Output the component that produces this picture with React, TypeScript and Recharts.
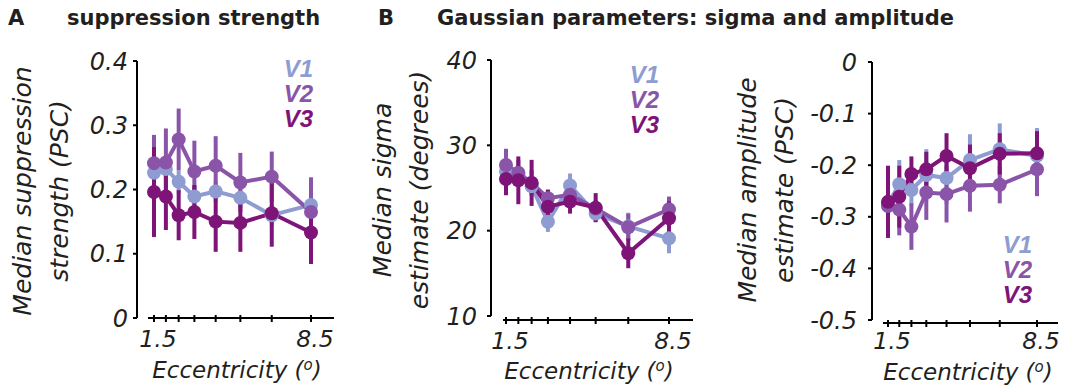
import React from 'react';
import { LineChart, Line, XAxis, YAxis, ErrorBar, ReferenceLine, Legend } from 'recharts';

// ---------- data ----------
const ecc = [1.5, 2.03, 2.6, 3.3, 4.25, 5.35, 6.75, 8.5];
const xTickLabels = ['1.5', '8.5'];
const seriesNames = ['V1', 'V2', 'V3'];
const seriesColors = ['#8E9CD2', '#8A55A8', '#7E1477'];

const supV1 = [0.226, 0.232, 0.212, 0.189, 0.197, 0.187, 0.160, 0.176];
const supV2 = [0.241, 0.242, 0.278, 0.228, 0.237, 0.211, 0.220, 0.165];
const supV3 = [0.196, 0.189, 0.160, 0.165, 0.150, 0.148, 0.163, 0.133];
const supErrV1 = [0.018, 0.018, 0.018, 0.016, 0.016, 0.016, 0.016, 0.02];
const supErrV2 = [0.044, 0.053, 0.048, 0.048, 0.046, 0.046, 0.039, 0.054];
const supErrV3 = [0.07, 0.052, 0.039, 0.042, 0.047, 0.045, 0.052, 0.049];

const sigV1 = [26.9, 26.5, 25.2, 21.05, 25.3, 22.0, 20.5, 19.1];
const sigV2 = [27.7, 26.8, 25.6, 23.8, 24.2, 22.6, 20.4, 22.5];
const sigV3 = [26.05, 25.9, 25.6, 22.8, 23.4, 22.7, 17.35, 21.45];
const sigErrV1 = [1.0, 1.0, 1.0, 1.2, 1.4, 1.0, 1.6, 1.75];
const sigErrV2 = [1.9, 1.5, 1.5, 1.0, 1.2, 1.0, 1.6, 1.5];
const sigErrV3 = [1.9, 2.8, 2.7, 2.0, 1.4, 1.7, 1.75, 2.0];

const ampV1 = [-0.275, -0.237, -0.248, -0.219, -0.225, -0.19, -0.169, -0.182];
const ampV2 = [-0.279, -0.286, -0.319, -0.253, -0.256, -0.24, -0.238, -0.208];
const ampV3 = [-0.271, -0.261, -0.217, -0.208, -0.182, -0.206, -0.178, -0.177];
const ampErrV1 = [0.04, 0.047, 0.03, 0.05, 0.05, 0.05, 0.05, 0.054];
const ampErrV2 = [0.05, 0.05, 0.045, 0.053, 0.055, 0.05, 0.036, 0.052];
const ampErrV3 = [0.07, 0.06, 0.034, 0.034, 0.044, 0.046, 0.04, 0.043];

const supTicks = [0, 0.1, 0.2, 0.3, 0.4];
const sigTicks = [10, 20, 30, 40];
const ampTicks = [-0.5, -0.4, -0.3, -0.2, -0.1, 0];

function buildRows(vals: number[][], errs: number[][]) {
  return ecc.map((x, i) => ({
    x,
    v1: vals[0][i], v2: vals[1][i], v3: vals[2][i],
    e1: errs[0][i], e2: errs[1][i], e3: errs[2][i],
  }));
}

const supData = buildRows([supV1, supV2, supV3], [supErrV1, supErrV2, supErrV3]);
const sigData = buildRows([sigV1, sigV2, sigV3], [sigErrV1, sigErrV2, sigErrV3]);
const ampData = buildRows([ampV1, ampV2, ampV3], [ampErrV1, ampErrV2, ampErrV3]);

// ---------- styles ----------
const TEXT = '#231F20';
const AXIS_FONT = "'DejaVu Sans', sans-serif";
const W = 1066;
const H = 389;

function XTick(props: any) {
  const { x, y, payload, off, labelDy } = props;
  const v = payload.value;
  const label = xTickLabels.find((l) => Number(l) === v);
  const ay = y + off;
  return (
    <g>
      <line x1={x} x2={x} y1={ay - 3} y2={ay + 4} stroke="#000" strokeWidth={2} />
      {label ? (
        <text x={x + 4} y={ay + labelDy} textAnchor="middle" fontFamily={AXIS_FONT} fontStyle="italic" fontSize={23.5} fill={TEXT}>
          {label}
        </text>
      ) : null}
    </g>
  );
}

function LegendContent(props: any) {
  const { payload } = props;
  return (
    <div style={{ textAlign: 'right', fontFamily: "'Liberation Sans', Arial, sans-serif", fontWeight: 'bold', fontStyle: 'italic', fontSize: 24, lineHeight: '25px' }}>
      {(payload || []).map((p: any) => (
        <div key={p.value} style={{ color: p.color }}>{p.value}</div>
      ))}
    </div>
  );
}

type PanelProps = {
  data: any[];
  plot: { left: number; right: number; top: number; bottom: number };
  xDomain: [number, number];
  axisSeg: [number, number];
  yDomain: [number, number];
  yTicks: number[];
  axisY: number;
  off: number;
  labelDy: number;
  tickMargin: number;
  legendPos: { left: number; top: number };
};

function Panel(p: PanelProps) {
  const margin = { top: p.plot.top, right: W - p.plot.right, bottom: H - p.plot.bottom - 1, left: p.plot.left - 1 };
  return (
    <div style={{ position: 'absolute', left: 0, top: 0 }}>
      <LineChart width={W} height={H} data={p.data} margin={margin}>
        <XAxis
          dataKey="x"
          type="number"
          domain={p.xDomain}
          ticks={ecc}
          height={1}
          axisLine={false}
          tickLine={false}
          tickSize={0}
          tickMargin={0}
          allowDataOverflow
          interval={0}
          tick={(tp: any) => <XTick {...tp} off={p.off} labelDy={p.labelDy} />}
        />
        <YAxis
          type="number"
          domain={p.yDomain}
          ticks={p.yTicks}
          width={1}
          interval={0}
          tickSize={4}
          tickMargin={p.tickMargin}
          axisLine={{ stroke: '#000', strokeWidth: 2 }}
          tickLine={{ stroke: '#000', strokeWidth: 2 }}
          tick={{ fontSize: 24, fontStyle: 'italic', fill: TEXT, fontFamily: AXIS_FONT }}
        />
        <ReferenceLine
          segment={[{ x: p.axisSeg[0], y: p.axisY }, { x: p.axisSeg[1], y: p.axisY }]}
          stroke="#000"
          strokeWidth={2}
          ifOverflow="visible"
        />
        {seriesNames.map((name, i) => (
          <Line
            key={name}
            name={name}
            dataKey={`v${i + 1}`}
            stroke={seriesColors[i]}
            strokeWidth={4}
            dot={{ r: 7, fill: seriesColors[i], stroke: seriesColors[i], strokeWidth: 0 }}
            activeDot={false}
            isAnimationActive={false}
          >
            <ErrorBar dataKey={`e${i + 1}`} width={0} strokeWidth={4} stroke={seriesColors[i]} direction="y" isAnimationActive={false} />
          </Line>
        ))}
        <Legend
          layout="horizontal"
          align="center"
          verticalAlign="middle"
          content={<LegendContent />}
          wrapperStyle={{ position: 'absolute', left: p.legendPos.left, top: p.legendPos.top, width: 60 }}
        />
      </LineChart>
    </div>
  );
}

function YLabel({ x1, x2, cy, l1, l2 }: { x1: number; x2: number; cy: number; l1: string; l2: string }) {
  return (
    <g>
      <text transform={`translate(${x1},${cy}) rotate(-90)`} textAnchor="middle" fontFamily={AXIS_FONT} fontStyle="italic" fontSize={25} fill={TEXT}>{l1}</text>
      <text transform={`translate(${x2},${cy}) rotate(-90)`} textAnchor="middle" fontFamily={AXIS_FONT} fontStyle="italic" fontSize={25} fill={TEXT}>{l2}</text>
    </g>
  );
}

function XLabel({ x, y }: { x: number; y: number }) {
  return (
    <text x={x} y={y} textAnchor="middle" fontFamily={AXIS_FONT} fontStyle="italic" fontSize={23} fill={TEXT}>
      Eccentricity (<tspan dy={-8} fontSize={15}>o</tspan><tspan dy={8}>)</tspan>
    </text>
  );
}

export default function App() {
  const titleStyle = { fontFamily: AXIS_FONT, fontWeight: 'bold' as const, fontSize: 21, fill: TEXT };
  return (
    <div style={{ position: 'absolute', left: 0, top: 0, width: W, height: H, background: '#fff', overflow: 'hidden' }}>
      <Panel
        data={supData}
        plot={{ left: 137, right: 334, top: 61, bottom: 318 }}
        xDomain={[0.742, 9.525]}
        axisSeg={[1.232, 9.525]}
        yDomain={[0, 0.4]}
        yTicks={supTicks}
        axisY={0}
        off={0}
        labelDy={29}
        tickMargin={5}
        legendPos={{ left: 253, top: 56 }}
      />
      <Panel
        data={sigData}
        plot={{ left: 491, right: 693, top: 60, bottom: 316 }}
        xDomain={[0.856, 9.53]}
        axisSeg={[1.371, 9.53]}
        yDomain={[10, 40]}
        yTicks={sigTicks}
        axisY={9.53}
        off={4}
        labelDy={29}
        tickMargin={10}
        legendPos={{ left: 599, top: 62 }}
      />
      <Panel
        data={ampData}
        plot={{ left: 872, right: 1058, top: 62, bottom: 320 }}
        xDomain={[0.749, 9.486]}
        axisSeg={[1.265, 9.486]}
        yDomain={[-0.5, 0]}
        yTicks={ampTicks}
        axisY={-0.5058}
        off={3}
        labelDy={26}
        tickMargin={11}
        legendPos={{ left: 972, top: 232 }}
      />
      <svg width={W} height={H} style={{ position: 'absolute', left: 0, top: 0, pointerEvents: 'none' }}>
        <text x={8} y={25} {...titleStyle}>A</text>
        <text x={67} y={25} {...titleStyle}>suppression strength</text>
        <text x={378} y={25} {...titleStyle}>B</text>
        <text x={437} y={25} {...titleStyle}>Gaussian parameters: sigma and amplitude</text>

        <YLabel x1={31} x2={68} cy={191} l1="Median suppression" l2="strength (PSC)" />
        <YLabel x1={391} x2={428} cy={190} l1="Median sigma" l2="estimate (degrees)" />
        <YLabel x1={756} x2={793} cy={190} l1="Median amplitude" l2="estimate (PSC)" />

        <XLabel x={237} y={378} />
        <XLabel x={589} y={379} />
        <XLabel x={968} y={380} />
      </svg>
    </div>
  );
}
